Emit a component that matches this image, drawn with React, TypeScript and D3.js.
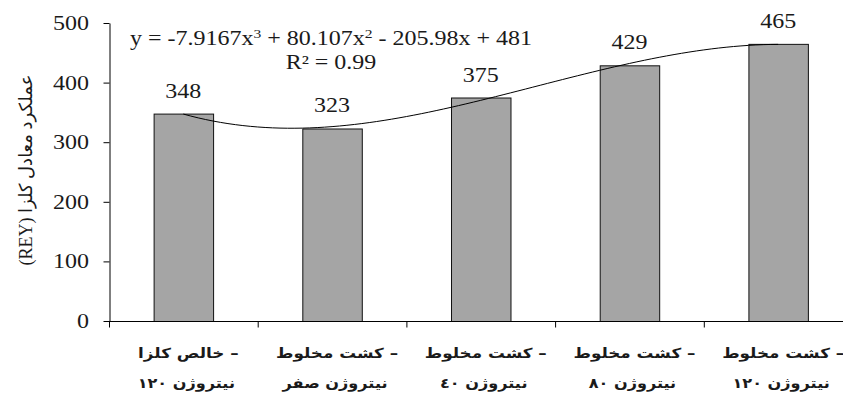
import { useEffect, useRef } from "react";
import * as d3 from "d3";

const categories = ["c1", "c2", "c3", "c4", "c5"];
const labelLine1 = ["خالص کلزا –", "کشت مخلوط –", "کشت مخلوط –", "کشت مخلوط –", "کشت مخلوط –"];
const labelLine2 = ["نیتروژن ۱۲۰", "نیتروژن صفر", "نیتروژن ٤۰", "نیتروژن ۸۰", "نیتروژن ۱۲۰"];
const values = [348, 323, 375, 429, 465];
const yTicks = [0, 100, 200, 300, 400, 500];
// trendline coefficients as printed on the chart (x^3, x^2, x, const)
const trendCoef = [-7.9167, 80.107, -205.98, 481];

const W = 843;
const H = 405;
const SX = 1.2; // the original picture is stretched sideways

export default function App() {
  const ref = useRef<SVGSVGElement>(null);

  useEffect(() => {
    if (!ref.current) return;
    const svg = d3.select(ref.current);
    svg.selectAll("*").remove();

    const left = 109;
    const top = 23;
    const bottom = 321;
    const right = left + 5 * 148.7;

    const x = d3.scaleBand().domain(categories).range([left, right]).paddingInner(0).paddingOuter(0);
    const xb = d3.scaleBand().domain(categories).range([left, right]).paddingInner(0.6).paddingOuter(0.3);
    const y = d3.scaleLinear().domain([0, 500]).range([bottom, top]);

    const serif = "Liberation Serif, Times New Roman, serif";

    // stretched text helper
    const label = (
      g: d3.Selection<any, any, any, any>,
      px: number,
      py: number,
      anchor: string,
      size: number,
      fam: string,
      sx = SX
    ) =>
      g
        .append("text")
        .attr("transform", `translate(${px},${py}) scale(${sx},1)`)
        .attr("text-anchor", anchor)
        .attr("font-family", fam)
        .attr("font-size", size)
        .attr("fill", "#1a1a1a");

    // bars
    svg
      .append("g")
      .selectAll("rect")
      .data(values)
      .enter()
      .append("rect")
      .attr("x", (_d, i) => (xb(categories[i]) || 0) + 0.5)
      .attr("y", (d) => y(d) + 0.5)
      .attr("width", xb.bandwidth())
      .attr("height", (d) => bottom - y(d))
      .attr("fill", "#a5a5a5")
      .attr("stroke", "#111")
      .attr("stroke-width", 1);

    // trendline
    const cx = (t: number) => (x(categories[0]) || 0) + x.bandwidth() / 2 + (t - 1) * x.step();
    const poly = (t: number) => trendCoef[0] * t ** 3 + trendCoef[1] * t ** 2 + trendCoef[2] * t + trendCoef[3];
    const pts = d3.range(1, 5.001, 0.05).map((t) => [cx(t), y(poly(t))] as [number, number]);
    svg
      .append("path")
      .attr("d", d3.line()(pts))
      .attr("fill", "none")
      .attr("stroke", "#000")
      .attr("stroke-width", 1);

    // y axis
    const ya = svg.append("g").attr("transform", `translate(${left + 0.5},0)`);
    ya.call(d3.axisLeft(y).tickValues(yTicks).tickSize(6).tickSizeOuter(0).tickFormat(() => ""));
    ya.select(".domain").attr("stroke", "#000");
    yTicks.forEach((t) => label(svg, 89, y(t) + 7, "end", 20, serif).text(t));

    // x axis
    const xa = svg.append("g").attr("transform", `translate(0,${bottom + 0.5})`);
    xa.append("line").attr("x1", left).attr("x2", right).attr("stroke", "#000");
    xa.selectAll("line.tick")
      .data(d3.range(0, 6))
      .enter()
      .append("line")
      .attr("class", "tick")
      .attr("x1", (i) => left + i * x.step() + 0.5)
      .attr("x2", (i) => left + i * x.step() + 0.5)
      .attr("y1", 0)
      .attr("y2", 6)
      .attr("stroke", "#000");

    // category labels: first line keeps the dash on the right, as in the original
    const labels = svg.append("g");
    categories.forEach((c, i) => {
      const mx = (x(c) || 0) + x.bandwidth() / 2;
      label(labels, mx + 5, 358, "middle", 14, "DejaVu Sans, sans-serif", 1.2)
        .attr("font-weight", "bold")
        .text(labelLine1[i]);
      label(labels, mx + 3, 388, "middle", 14, "DejaVu Sans, sans-serif", 1.15)
        .attr("direction", "rtl")
        .attr("font-weight", "bold")
        .text(labelLine2[i]);
    });

    // value labels
    values.forEach((v, i) => {
      const mx = (x(categories[i]) || 0) + x.bandwidth() / 2;
      label(svg, mx, y(v) - 16, "middle", 20, serif).text(v);
    });

    // equation
    const eq = label(svg, 331, 45, "middle", 20, serif);
    eq.append("tspan").text(`y = ${trendCoef[0]}x`);
    eq.append("tspan").attr("dy", -7).attr("font-size", 13).text("3");
    eq.append("tspan").attr("dy", 7).text(` + ${trendCoef[1]}x`);
    eq.append("tspan").attr("dy", -7).attr("font-size", 13).text("2");
    eq.append("tspan").attr("dy", 7).text(` - ${-trendCoef[2]}x + ${trendCoef[3]}`);

    label(svg, 331, 69, "middle", 20, serif).text("R² = 0.99");

    // y axis title
    svg
      .append("text")
      .attr("transform", "translate(32,170) rotate(-90)")
      .attr("direction", "rtl")
      .attr("text-anchor", "middle")
      .attr("font-family", "Liberation Serif, DejaVu Sans, serif")
      .attr("font-size", 18)
      .attr("fill", "#1a1a1a")
      .text("عملکرد معادل کلزا (REY)");
  }, []);

  return (
    <svg
      ref={ref}
      width={W}
      height={H}
      style={{ position: "absolute", left: 0, top: 0, background: "#fff" }}
    />
  );
}
